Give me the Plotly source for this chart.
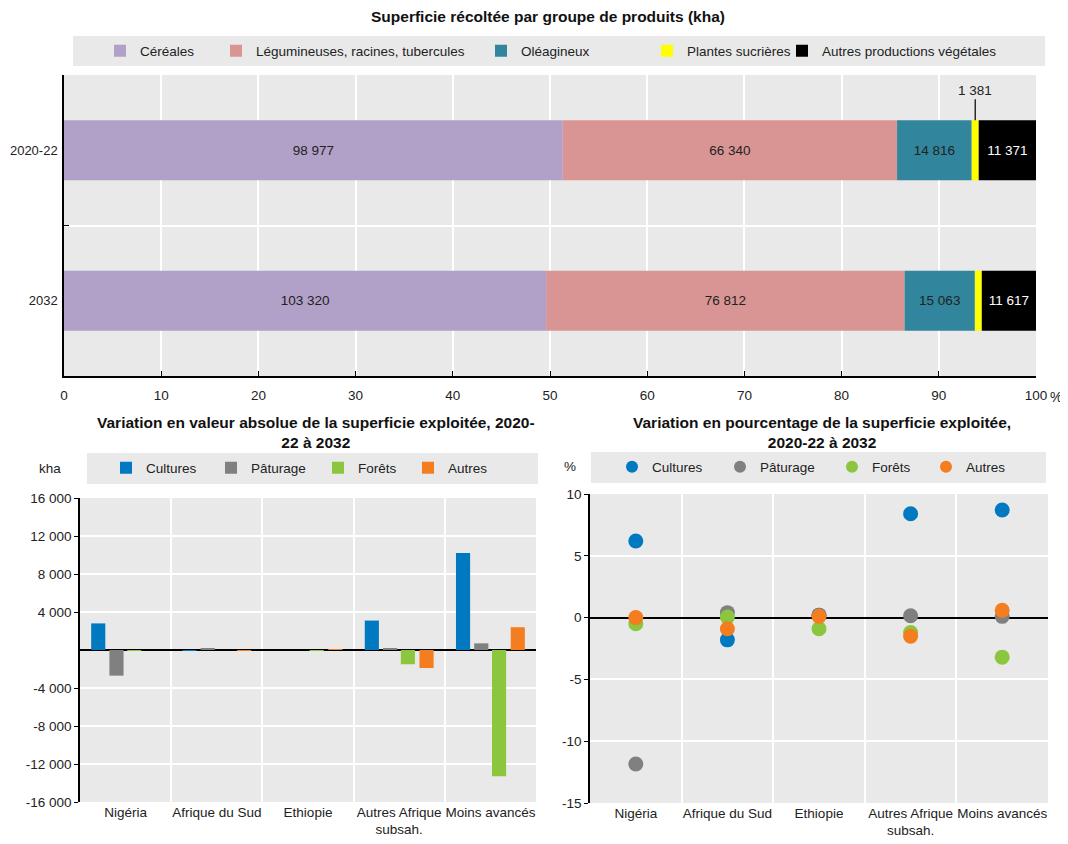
import numpy as np
import plotly.graph_objects as go

# ---------------- Data ----------------
periods = ["2020-22", "2032"]
cereales = [98977, 103320]
legumineuses = [66340, 76812]
oleagineux = [14816, 15063]
plantes_sucrieres = [1381, 1481]
autres_vegetales = [11371, 11617]
top_names = ["Céréales", "Légumineuses, racines, tubercules", "Oléagineux",
             "Plantes sucrières", "Autres productions végétales"]

regions = ["Nigéria", "Afrique du Sud", "Ethiopie", "Autres Afrique<br>subsah.", "Moins avancés"]
land_names = ["Cultures", "Pâturage", "Forêts", "Autres"]

abs_cultures = [2800, -100, 0, 3100, 10200]
abs_paturage = [-2700, 200, 0, 200, 700]
abs_forets = [-100, 0, -100, -1500, -13300]
abs_autres = [0, -100, 50, -1900, 2400]

pct_cultures = [6.2, -1.8, 0.2, 8.4, 8.7]
pct_paturage = [-11.85, 0.4, 0.2, 0.15, 0.1]
pct_forets = [-0.5, 0.05, -0.9, -1.2, -3.2]
pct_autres = [0.0, -0.9, 0.1, -1.5, 0.6]

abs_ticks = [-16000, -12000, -8000, -4000, 4000, 8000, 12000, 16000]
pct_ticks = [-15, -10, -5, 0, 5, 10]
top_ticks = [0, 10, 20, 30, 40, 50, 60, 70, 80, 90, 100]

# ---------------- Styles ----------------
PAGE_OFF = 8              # default page body margin
W, H = 1068 - PAGE_OFF, 844 - PAGE_OFF
FONT = "Liberation Sans, Arial, sans-serif"
BG = "#e9e9e9"
top_colors = ["#b1a0c7", "#d99594", "#31859c", "#ffff00", "#000000"]
top_text_colors = ["#222222", "#222222", "#222222", "#222222", "#ffffff"]
land_colors = ["#0079c1", "#808080", "#8cc63f", "#f47d20"]


def px(x):
    return (x - PAGE_OFF) / W


def py(y):
    return 1 - (y - PAGE_OFF) / H


def fmt(v):
    s = f"{abs(int(round(v))):,}".replace(",", " ")
    return ("-" + s) if v < 0 else s


fig = go.Figure()

# ---------------- Top: stacked shares ----------------
groups = [cereales, legumineuses, oleagineux, plantes_sucrieres, autres_vegetales]
totals = np.sum(np.array(groups, dtype=float), axis=0)
base = np.zeros(len(periods))
sucr_centers = None
legend_idx = 1
for i, g in enumerate(groups):
    share = np.array(g, dtype=float) / totals * 100
    show_text = i != 3
    fig.add_trace(go.Bar(
        y=periods, x=share, base=base.copy(), orientation="h", width=0.4,
        name=top_names[i], marker=dict(color=top_colors[i], line=dict(width=0)),
        text=[fmt(v) for v in g] if show_text else None,
        textposition="inside" if show_text else "none",
        insidetextanchor="middle", textangle=0,
        textfont=dict(color=top_text_colors[i], size=13.5, family=FONT),
        xaxis="x", yaxis="y",
        legend="legend" if legend_idx == 1 else f"legend{legend_idx}",
        hoverinfo="skip",
    ))
    if i == 3:
        sucr_centers = base + share / 2
    base = base + share
    legend_idx += 1

annotations = []
for p, xc, v in zip(periods, sucr_centers, plantes_sucrieres):
    annotations.append(dict(
        x=xc, y=p, xref="x", yref="y", text=fmt(v), showarrow=True,
        arrowhead=0, arrowwidth=1.2, arrowcolor="#000000", ax=0, ay=-60,
        standoff=30, xanchor="center", font=dict(size=13.5, family=FONT, color="#222222"),
    ))

# ---------------- Bottom-left: absolute change bars ----------------
abs_series = [abs_cultures, abs_paturage, abs_forets, abs_autres]
bar_w = 0.155
centers = [-0.30, -0.10, 0.095, 0.30]
for i, s in enumerate(abs_series):
    fig.add_trace(go.Bar(
        x=regions, y=s, width=bar_w, offset=centers[i] - bar_w / 2,
        name=land_names[i], marker=dict(color=land_colors[i], line=dict(width=0)),
        xaxis="x2", yaxis="y2", legend=f"legend{legend_idx}", hoverinfo="skip",
    ))
    legend_idx += 1

# ---------------- Bottom-right: percentage change dots ----------------
pct_series = [pct_cultures, pct_paturage, pct_forets, pct_autres]
for i, s in enumerate(pct_series):
    fig.add_trace(go.Scatter(
        x=regions, y=s, mode="markers", name=land_names[i],
        marker=dict(color=land_colors[i], size=15, line=dict(width=0)),
        xaxis="x3", yaxis="y3", legend=f"legend{legend_idx}", hoverinfo="skip",
    ))
    legend_idx += 1

# ---------------- Legends ----------------
legend_text_x = [140, 256, 521, 687, 822,      # top
                 146, 251, 358, 448,           # bottom-left
                 652, 760, 872, 966]           # bottom-right
legend_y = [51] * 5 + [468] * 4 + [467] * 4
layout_legends = {}
for k in range(13):
    key = "legend" if k == 0 else f"legend{k + 1}"
    layout_legends[key] = dict(
        x=px(legend_text_x[k] - 40), y=py(legend_y[k]), xanchor="left", yanchor="middle",
        orientation="h", bgcolor="rgba(0,0,0,0)", borderwidth=0,
        font=dict(size=13.5, family=FONT, color="#222222"),
        itemsizing="constant", itemwidth=30, tracegroupgap=0,
    )

# gray legend boxes
shapes = [
    dict(type="rect", xref="paper", yref="paper", x0=px(73), x1=px(1045), y0=py(66), y1=py(36),
         fillcolor=BG, line=dict(width=0), layer="below"),
    dict(type="rect", xref="paper", yref="paper", x0=px(87), x1=px(538), y0=py(484), y1=py(453),
         fillcolor=BG, line=dict(width=0), layer="below"),
    dict(type="rect", xref="paper", yref="paper", x0=px(591), x1=px(1046), y0=py(483), y1=py(452),
         fillcolor=BG, line=dict(width=0), layer="below"),
]

# titles and unit labels
title_font = dict(size=15.5, family=FONT, color="#111111")
annotations += [
    dict(x=px(548), y=py(17), xref="paper", yref="paper", showarrow=False, xanchor="center",
         yanchor="middle",
         text="<b>Superficie récoltée par groupe de produits (kha)</b>", font=title_font),
    dict(x=px(316), y=py(432), xref="paper", yref="paper", showarrow=False, xanchor="center",
         yanchor="middle",
         text="<b>Variation en valeur absolue de la superficie exploitée, 2020-<br>22 à 2032</b>",
         font=title_font),
    dict(x=px(822), y=py(432), xref="paper", yref="paper", showarrow=False, xanchor="center",
         yanchor="middle",
         text="<b>Variation en pourcentage de la superficie exploitée,<br>2020-22 à 2032</b>",
         font=title_font),
    dict(x=px(50), y=py(468), xref="paper", yref="paper", showarrow=False, xanchor="center",
         yanchor="middle", text="kha", font=dict(size=13.5, family=FONT, color="#222222")),
    dict(x=px(570), y=py(467), xref="paper", yref="paper", showarrow=False, xanchor="center",
         yanchor="middle", text="%", font=dict(size=13.5, family=FONT, color="#222222")),
    dict(x=px(1056), y=py(397), xref="paper", yref="paper", showarrow=False, xanchor="center",
         yanchor="middle", text="%", font=dict(size=14, family=FONT, color="#222222")),
]

tick_font = dict(size=13.5, family=FONT, color="#222222")

fig.update_layout(
    width=W, height=H, margin=dict(l=0, r=0, t=0, b=0, autoexpand=False),
    paper_bgcolor="white", plot_bgcolor=BG,
    barmode="overlay", showlegend=True,
    font=dict(family=FONT, size=13, color="#222222"),
    shapes=shapes, annotations=annotations,
    **layout_legends,
    xaxis=dict(domain=[px(64), px(1036)], anchor="y", range=[0, 100], automargin=False,
               tickvals=top_ticks, ticktext=[str(t) for t in top_ticks], tickangle=0,
               showgrid=True, gridcolor="white", gridwidth=1.5,
               ticks="inside", ticklen=5, tickcolor="#000000",
               showline=True, linecolor="#000000", linewidth=1.5,
               zeroline=False, tickfont=tick_font, ticklabelstandoff=6, fixedrange=True),
    yaxis=dict(domain=[py(376), py(75)], anchor="x", type="category", automargin=False,
               categoryorder="array", categoryarray=["2032", "2020-22"],
               range=[-0.5, 1.5], tickson="boundaries",
               showgrid=True, gridcolor="white", gridwidth=1.5,
               ticks="inside", ticklen=5, tickcolor="#000000",
               showline=True, linecolor="#000000", linewidth=1.5,
               tickfont=dict(size=13, family=FONT, color="#222222"),
               ticklabelstandoff=2, fixedrange=True),
    xaxis2=dict(domain=[px(80), px(536)], anchor="y2", type="category", automargin=False,
                categoryorder="array", categoryarray=regions, range=[-0.5, 4.5], tickangle=0,
                tickson="boundaries", showgrid=True, gridcolor="white", gridwidth=1.5,
                ticks="", showline=False, tickfont=tick_font, fixedrange=True),
    yaxis2=dict(domain=[py(802), py(498)], anchor="x2", range=[-16000, 16000], automargin=False,
                tickvals=abs_ticks, ticktext=[fmt(t) for t in abs_ticks],
                showgrid=True, gridcolor="white", gridwidth=1.5,
                zeroline=True, zerolinecolor="#000000", zerolinewidth=1.5,
                ticks="outside", ticklen=4, tickcolor="#000000",
                showline=True, linecolor="#000000", linewidth=1.5,
                tickfont=tick_font, fixedrange=True),
    xaxis3=dict(domain=[px(590), px(1048)], anchor="y3", type="category", automargin=False,
                categoryorder="array", categoryarray=regions, range=[-0.5, 4.5], tickangle=0,
                tickson="boundaries", showgrid=True, gridcolor="white", gridwidth=1.5,
                ticks="", showline=False, tickfont=tick_font, fixedrange=True),
    yaxis3=dict(domain=[py(803), py(494)], anchor="x3", range=[-15, 10], automargin=False,
                tickvals=pct_ticks, ticktext=[fmt(t) for t in pct_ticks],
                showgrid=True, gridcolor="white", gridwidth=1.5,
                zeroline=True, zerolinecolor="#000000", zerolinewidth=1.5,
                ticks="outside", ticklen=4, tickcolor="#000000",
                showline=True, linecolor="#000000", linewidth=1.5,
                tickfont=tick_font, fixedrange=True),
)

fig.write_html("out.html")
